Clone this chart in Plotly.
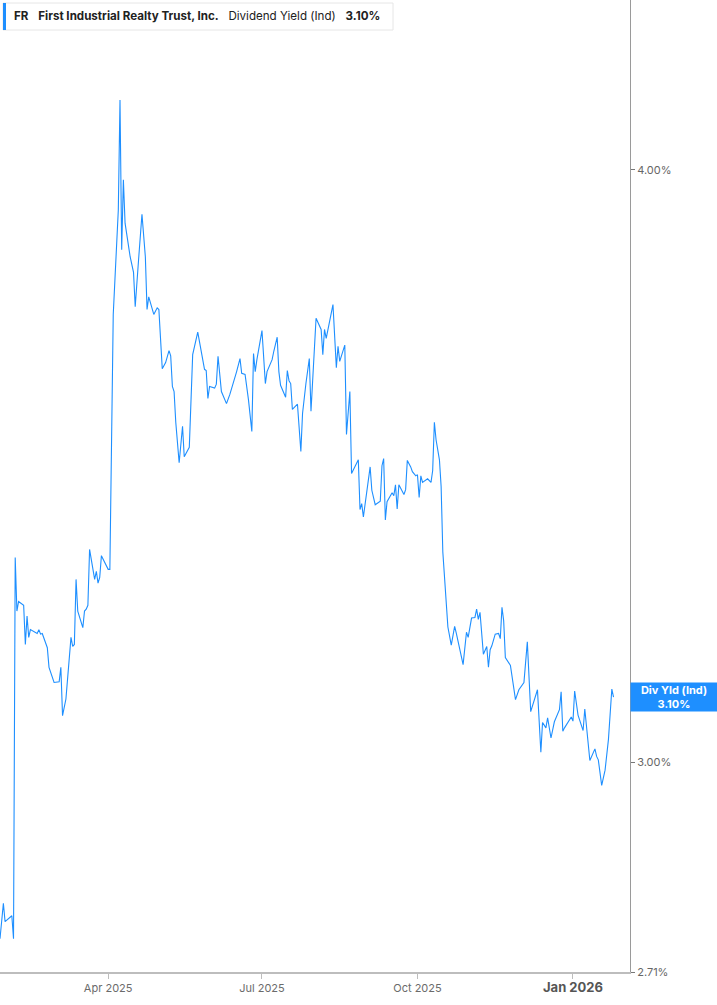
import numpy as np
import plotly.graph_objects as go

# FR indicated dividend yield (%)
dates = [
    "2025-01-27", "2025-01-29", "2025-01-30", "2025-02-03", "2025-02-04", "2025-02-05",
    "2025-02-06", "2025-02-07", "2025-02-10", "2025-02-11", "2025-02-12", "2025-02-13",
    "2025-02-14", "2025-02-18", "2025-02-19", "2025-02-20", "2025-02-21", "2025-02-24",
    "2025-02-25", "2025-02-28", "2025-03-03", "2025-03-04", "2025-03-05", "2025-03-07",
    "2025-03-10", "2025-03-11", "2025-03-12", "2025-03-13", "2025-03-14", "2025-03-17",
    "2025-03-18", "2025-03-19", "2025-03-20", "2025-03-21", "2025-03-24", "2025-03-25",
    "2025-03-26", "2025-03-27", "2025-03-28", "2025-03-31", "2025-04-01", "2025-04-02",
    "2025-04-03", "2025-04-04", "2025-04-07", "2025-04-08", "2025-04-09", "2025-04-10",
    "2025-04-11", "2025-04-14", "2025-04-16", "2025-04-17", "2025-04-19", "2025-04-21",
    "2025-04-23", "2025-04-24", "2025-04-25", "2025-04-27", "2025-04-28", "2025-04-30",
    "2025-05-01", "2025-05-03", "2025-05-05", "2025-05-07", "2025-05-08", "2025-05-09",
    "2025-05-10", "2025-05-11", "2025-05-13", "2025-05-15", "2025-05-16", "2025-05-19",
    "2025-05-21", "2025-05-24", "2025-05-26", "2025-05-28", "2025-05-29", "2025-05-30",
    "2025-05-31", "2025-06-03", "2025-06-04", "2025-06-05", "2025-06-07", "2025-06-10",
    "2025-06-12", "2025-06-14", "2025-06-16", "2025-06-18", "2025-06-19", "2025-06-21",
    "2025-06-23", "2025-06-25", "2025-06-26", "2025-06-27", "2025-06-28", "2025-07-01",
    "2025-07-03", "2025-07-04", "2025-07-07", "2025-07-08", "2025-07-10", "2025-07-11",
    "2025-07-12", "2025-07-15", "2025-07-16", "2025-07-17", "2025-07-18", "2025-07-19",
    "2025-07-21", "2025-07-22", "2025-07-24", "2025-07-25", "2025-07-27", "2025-07-29",
    "2025-07-30", "2025-08-02", "2025-08-05", "2025-08-06", "2025-08-07", "2025-08-08",
    "2025-08-12", "2025-08-13", "2025-08-14", "2025-08-15", "2025-08-16", "2025-08-19",
    "2025-08-20", "2025-08-22", "2025-08-23", "2025-08-27", "2025-08-28", "2025-08-29",
    "2025-08-30", "2025-09-03", "2025-09-04", "2025-09-06", "2025-09-09", "2025-09-10",
    "2025-09-11", "2025-09-12", "2025-09-13", "2025-09-16", "2025-09-17", "2025-09-18",
    "2025-09-19", "2025-09-20", "2025-09-23", "2025-09-24", "2025-09-25", "2025-09-27",
    "2025-09-28", "2025-09-30", "2025-10-01", "2025-10-02", "2025-10-03", "2025-10-04",
    "2025-10-07", "2025-10-09", "2025-10-10", "2025-10-11", "2025-10-12", "2025-10-14",
    "2025-10-15", "2025-10-16", "2025-10-18", "2025-10-19", "2025-10-21", "2025-10-23",
    "2025-10-24", "2025-10-26", "2025-10-28", "2025-10-30", "2025-10-31", "2025-11-02",
    "2025-11-04", "2025-11-05", "2025-11-06", "2025-11-07", "2025-11-09", "2025-11-11",
    "2025-11-12", "2025-11-13", "2025-11-14", "2025-11-16", "2025-11-18", "2025-11-19",
    "2025-11-20", "2025-11-21", "2025-11-22", "2025-11-25", "2025-11-28", "2025-11-30",
    "2025-12-03", "2025-12-05", "2025-12-07", "2025-12-11", "2025-12-13", "2025-12-14",
    "2025-12-16", "2025-12-17", "2025-12-19", "2025-12-21", "2025-12-24", "2025-12-25",
    "2025-12-26", "2025-12-27", "2025-12-31", "2026-01-01", "2026-01-02", "2026-01-04",
    "2026-01-07", "2026-01-08", "2026-01-11", "2026-01-14", "2026-01-15", "2026-01-16",
    "2026-01-18", "2026-01-20", "2026-01-22", "2026-01-24", "2026-01-25",
]
yield_pct = [
    2.754, 2.802, 2.777, 2.785, 2.754, 3.314,
    3.229, 3.244, 3.238, 3.177, 3.221, 3.188,
    3.200, 3.194, 3.200, 3.193, 3.194, 3.172,
    3.142, 3.119, 3.120, 3.142, 3.069, 3.094,
    3.188, 3.174, 3.177, 3.279, 3.229, 3.203,
    3.229, 3.232, 3.238, 3.327, 3.279, 3.292,
    3.273, 3.282, 3.317, 3.301, 3.295, 3.295,
    3.500, 3.729, 3.923, 4.138, 3.848, 3.981,
    3.898, 3.835, 3.806, 3.743, 3.830, 3.915,
    3.835, 3.738, 3.761, 3.741, 3.729, 3.741,
    3.738, 3.632, 3.643, 3.664, 3.655, 3.601,
    3.592, 3.539, 3.470, 3.532, 3.480, 3.496,
    3.657, 3.697, 3.661, 3.631, 3.629, 3.580,
    3.601, 3.598, 3.605, 3.654, 3.592, 3.571,
    3.587, 3.605, 3.627, 3.650, 3.624, 3.622,
    3.578, 3.523, 3.659, 3.627, 3.648, 3.700,
    3.606, 3.627, 3.648, 3.663, 3.688, 3.627,
    3.603, 3.582, 3.629, 3.611, 3.606, 3.561,
    3.566, 3.570, 3.489, 3.554, 3.606, 3.650,
    3.558, 3.722, 3.702, 3.657, 3.702, 3.686,
    3.747, 3.679, 3.634, 3.672, 3.645, 3.674,
    3.518, 3.592, 3.452, 3.475, 3.392, 3.402,
    3.380, 3.463, 3.424, 3.400, 3.406, 3.465,
    3.477, 3.375, 3.405, 3.420, 3.415, 3.433,
    3.393, 3.433, 3.417, 3.425, 3.474, 3.463,
    3.455, 3.448, 3.450, 3.412, 3.448, 3.437,
    3.443, 3.437, 3.457, 3.539, 3.509, 3.475,
    3.430, 3.323, 3.232, 3.204, 3.176, 3.205,
    3.194, 3.172, 3.146, 3.196, 3.188, 3.218,
    3.219, 3.232, 3.216, 3.227, 3.162, 3.174,
    3.142, 3.169, 3.175, 3.193, 3.194, 3.186,
    3.235, 3.214, 3.157, 3.145, 3.093, 3.108,
    3.119, 3.181, 3.075, 3.108, 3.015, 3.059,
    3.051, 3.066, 3.036, 3.060, 3.078, 3.105,
    3.046, 3.051, 3.067, 3.061, 3.106, 3.070,
    3.047, 3.079, 3.003, 3.020, 3.009, 3.004,
    2.967, 2.989, 3.034, 3.109, 3.097,
]

ytick_vals = [2.71, 3.00, 4.00]
ytick_text = ["2.71%", "3.00%", "4.00%"]
xtick_vals = ["2025-04-01", "2025-07-01", "2025-10-01", "2026-01-01"]
xtick_text = ["Apr 2025", "Jul 2025", "Oct 2025",
              "<span style='font-size:13px;fill:#555'><b>Jan 2026</b></span>"]

blue = "#1e8fff"
last = yield_pct[-1]

fig = go.Figure()
fig.add_trace(go.Scatter(x=dates, y=yield_pct, mode="lines",
                         line=dict(color=blue, width=1.1), hoverinfo="x+y"))

fig.update_layout(
    width=717, height=1005,
    margin=dict(l=0, r=87, t=0, b=33),
    paper_bgcolor="white", plot_bgcolor="white",
    showlegend=False,
    font=dict(family="Inter", size=11, color="#666"),
)
fig.update_xaxes(
    range=["2025-01-27", "2026-02-03 18:00"],
    tickvals=xtick_vals, ticktext=xtick_text,
    showgrid=False, zeroline=False,
    showline=True, linecolor="#bdbdbd", linewidth=2,
    ticks="outside", ticklen=5, tickcolor="#bdbdbd",
    tickfont=dict(size=11, color="#6b6b6b"),
)
fig.update_yaxes(
    type="log", side="right",
    range=[np.log10(2.71), np.log10(4.344)],
    tickvals=ytick_vals, ticktext=ytick_text,
    showgrid=False, zeroline=False,
    showline=True, linecolor="#9a9a9a", linewidth=1,
    ticks="outside", ticklen=4, tickcolor="#777",
    tickfont=dict(size=11, color="#666"),
)

# header box, top left: frame + blue marker + text
fig.add_shape(type="rect", xref="paper", yref="paper", layer="above",
              x0=3 / 630, x1=393 / 630, y0=1 - 30 / 972, y1=1 - 3 / 972,
              fillcolor="white", line=dict(color="#e6e6e6", width=1))
fig.add_shape(type="rect", xref="paper", yref="paper", layer="above",
              x0=3 / 630, x1=6 / 630, y0=1 - 30 / 972, y1=1 - 3 / 972,
              fillcolor=blue, line_width=0)
fig.add_annotation(
    xref="paper", yref="paper", x=12 / 630, y=1 - 16.5 / 972,
    xanchor="left", yanchor="middle",
    text=("<b>FR</b>   <b>First Industrial Realty Trust, Inc.</b>   "
          "Dividend Yield (Ind)   <b>%.2f%%</b>" % last),
    showarrow=False, align="left",
    font=dict(family="Inter", size=11.6, color="#222"),
)

# last value tag on the right axis
fig.add_annotation(
    xref="paper", yref="y", x=1, y=np.log10(last), xanchor="left", yanchor="middle",
    text="<b>Div Yld (Ind)</b><br><b>%.2f%%</b>" % last,
    showarrow=False, align="center", width=84, height=26,
    font=dict(family="Inter", size=11, color="white"),
    bgcolor=blue, borderpad=1,
)

fig.write_html("out.html", config={"displayModeBar": False},
               post_script="document.body.style.margin='0';")
